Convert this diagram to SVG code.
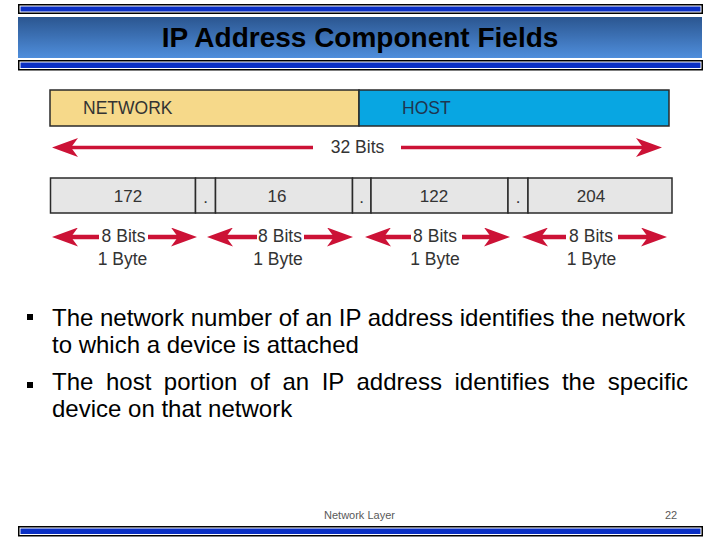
<svg xmlns="http://www.w3.org/2000/svg" width="720" height="540" viewBox="0 0 720 540">
  <defs>
    <linearGradient id="band" x1="0" y1="0" x2="0" y2="1">
      <stop offset="0" stop-color="#2b5690"/>
      <stop offset="1" stop-color="#4f8edc"/>
    </linearGradient>
    <marker id="arr" markerUnits="userSpaceOnUse" viewBox="0 0 26 19" markerWidth="26" markerHeight="19" refX="7" refY="9.5" orient="auto-start-reverse">
      <path d="M0,0 L26,9.5 L0,19 L7,9.5 Z" fill="#cc1236"/>
    </marker>
    <style>
      .barOut { fill: #000; }
      .barMid { fill: #fff; }
      .barIn { fill: #0a2fc4; }
      .title { font-family: "Liberation Sans", Arial, sans-serif; font-size: 28px; font-weight: bold; fill: #000; }
      .lbl { font-family: "Liberation Sans", Arial, sans-serif; font-size: 17.5px; }
      .num { font-family: "Liberation Sans", Arial, sans-serif; font-size: 17px; fill: #333; text-anchor: middle; }
      .ann { font-family: "Liberation Sans", Arial, sans-serif; font-size: 17.5px; fill: #333; text-anchor: middle; }
      .box { stroke: #2a2a2a; stroke-width: 1.5; }
      .byte { fill: #e6e6e6; stroke: #2a2a2a; stroke-width: 1.5; }
      .arrow { stroke: #cc1236; fill: none; marker-start: url(#arr); }
      .body { font-family: "Liberation Sans", Arial, sans-serif; font-size: 24px; fill: #000; }
      .foot { font-family: "Liberation Sans", Arial, sans-serif; font-size: 11px; fill: #595959; }
    </style>
  </defs>

  <rect width="720" height="540" fill="#fff"/>

  <!-- header -->
  <g id="header">
    <rect class="barOut" x="18" y="4" width="685" height="10"/>
    <rect class="barMid" x="19.5" y="5.5" width="682" height="7"/>
    <rect class="barIn" x="20.5" y="6.5" width="680" height="5"/>
    <rect x="18" y="17" width="684" height="41" fill="url(#band)"/>
    <rect class="barOut" x="18" y="60" width="685" height="10.5"/>
    <rect class="barMid" x="19.5" y="61.5" width="682" height="7.5"/>
    <rect class="barIn" x="20.5" y="62.5" width="680" height="5.5"/>
    <text class="title" x="360" y="47" text-anchor="middle">IP Address Component Fields</text>
  </g>

  <!-- address structure -->
  <g id="network">
    <rect class="box" x="50" y="90" width="309" height="36" fill="#f6d98a"/>
    <text class="lbl" x="83" y="113.5" fill="#333">NETWORK</text>
  </g>
  <g id="host">
    <rect class="box" x="359" y="90" width="310" height="36" fill="#08a6e2"/>
    <text class="lbl" x="402" y="113.5" fill="#1f3550">HOST</text>
  </g>

  <g id="bytes">
    <g id="byte1">
      <rect class="byte" x="50.5" y="178" width="145" height="35"/>
      <text class="num" x="128" y="202">172</text>
    </g>
    <g id="dot1">
      <rect class="byte" x="195.5" y="178" width="20" height="35"/>
      <text class="num" x="205.5" y="203">.</text>
    </g>
    <g id="byte2">
      <rect class="byte" x="215.5" y="178" width="137" height="35"/>
      <text class="num" x="277" y="202">16</text>
    </g>
    <g id="dot2">
      <rect class="byte" x="352.5" y="178" width="18.5" height="35"/>
      <text class="num" x="361.5" y="203">.</text>
    </g>
    <g id="byte3">
      <rect class="byte" x="371" y="178" width="137" height="35"/>
      <text class="num" x="434" y="202">122</text>
    </g>
    <g id="dot3">
      <rect class="byte" x="508" y="178" width="20" height="35"/>
      <text class="num" x="518" y="203">.</text>
    </g>
    <g id="byte4">
      <rect class="byte" x="528" y="178" width="144" height="35"/>
      <text class="num" x="591" y="202">204</text>
    </g>
  </g>

  <!-- connectors (dimension arrows) -->
  <g id="connectors">
    <path class="arrow" d="M71,147.5 L313,147.5" stroke-width="3.5"/>
    <path class="arrow" d="M643,147.5 L401,147.5" stroke-width="3.5"/>

    <path class="arrow" d="M71,237 L99,237" stroke-width="4.5"/>
    <path class="arrow" d="M178,237 L148,237" stroke-width="4.5"/>
    <path class="arrow" d="M226,237 L257,237" stroke-width="4.5"/>
    <path class="arrow" d="M334,237 L304,237" stroke-width="4.5"/>
    <path class="arrow" d="M384,237 L411,237" stroke-width="4.5"/>
    <path class="arrow" d="M491,237 L462,237" stroke-width="4.5"/>
    <path class="arrow" d="M541,237 L566,237" stroke-width="4.5"/>
    <path class="arrow" d="M648,237 L618,237" stroke-width="4.5"/>
  </g>

  <g id="annotations">
    <text class="ann" x="357.5" y="153">32 Bits</text>
    <text class="ann" x="123.5" y="242">8 Bits</text>
    <text class="ann" x="122.5" y="265">1 Byte</text>
    <text class="ann" x="280" y="242">8 Bits</text>
    <text class="ann" x="278" y="265">1 Byte</text>
    <text class="ann" x="435" y="242">8 Bits</text>
    <text class="ann" x="435" y="265">1 Byte</text>
    <text class="ann" x="591" y="242">8 Bits</text>
    <text class="ann" x="591.5" y="265">1 Byte</text>
  </g>

  <!-- bullets -->
  <g id="bullets">
    <rect x="27" y="314" width="6" height="6" fill="#000"/>
    <text class="body" x="52" y="326">The network number of an IP address identifies the network</text>
    <text class="body" x="52" y="353">to which a device is attached</text>
    <rect x="27" y="382" width="6" height="6" fill="#000"/>
    <text class="body" x="52" y="390" textLength="636" lengthAdjust="spacing" word-spacing="5.8">The host portion of an IP address identifies the specific</text>
    <text class="body" x="52" y="417">device on that network</text>
  </g>

  <!-- footer -->
  <g id="footer">
    <text class="foot" x="359.5" y="519" text-anchor="middle">Network Layer</text>
    <text class="foot" x="671" y="519" text-anchor="middle">22</text>
    <rect class="barOut" x="18" y="526" width="685" height="10.5"/>
    <rect class="barMid" x="19.5" y="527.5" width="682" height="7.5"/>
    <rect class="barIn" x="20.5" y="528.5" width="680" height="5.5"/>
  </g>
</svg>
